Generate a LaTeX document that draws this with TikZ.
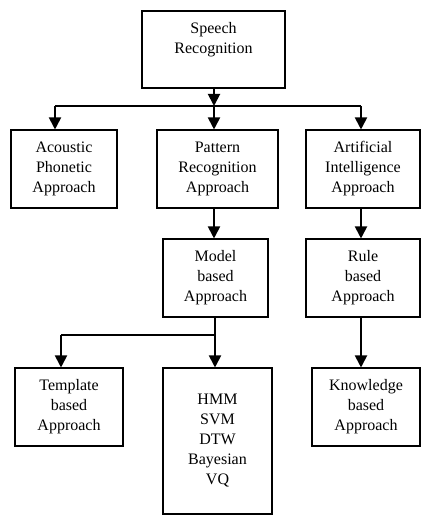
\documentclass[tikz,border=0pt]{standalone}
\usepackage{fontspec}
\setmainfont{Liberation Serif}
\usetikzlibrary{arrows.meta}

\tikzset{
    box/.style={rectangle, draw, line width=0.8pt, align=center, inner sep=2pt,
        font=\fontsize{12}{15}\selectfont, minimum height=58.5pt},
    arr/.style={line width=1.4pt, -{Triangle[length=9pt, width=9pt]}},
    bar/.style={line width=1.4pt}
}

\begin{document}
\begin{tikzpicture}[x=0.75pt, y=-0.75pt]
    \useasboundingbox (0, 0) rectangle (426, 520);

    \draw (213.5, 49.5) node[box, minimum width=107.25pt, minimum height=57.75pt, text depth=18pt] (sr) {Speech\\Recognition};

    \draw (64, 169) node[box, minimum width=79.5pt] (ap) {Acoustic\\Phonetic\\Approach};
    \draw (217.5, 169) node[box, minimum width=90.75pt] (pr) {Pattern\\Recognition\\Approach};
    \draw (363, 169) node[box, minimum width=85.5pt] (ai) {Artificial\\Intelligence\\Approach};

    \draw (215.5, 278) node[box, minimum width=78.75pt] (mb) {Model\\based\\Approach};
    \draw (363, 278) node[box, minimum width=85.5pt] (rb) {Rule\\based\\Approach};

    \draw (69, 407) node[box, minimum width=81pt] (tb) {Template\\based\\Approach};
    \draw (217.5, 441) node[box, minimum width=81.75pt, minimum height=109.5pt] (hmm) {HMM\\SVM\\DTW\\Bayesian\\VQ};
    \draw (366, 407) node[box, minimum width=81pt] (kb) {Knowledge\\based\\Approach};

    % first branching
    \coordinate (j1) at (214, 106);
    \coordinate (b1) at (55, 106);
    \coordinate (b3) at (361, 106);
    \draw[arr] (sr.south -| j1) -- (j1);
    \draw[bar] (b1) -- (b3);
    \draw[arr] (b1) -- (b1 |- ap.north);
    \draw[arr] (j1) -- (j1 |- pr.north);
    \draw[arr] (b3) -- (b3 |- ai.north);

    \draw[arr] (pr.south -| j1) -- (j1 |- mb.north);
    \draw[arr] (ai.south -| b3) -- (b3 |- rb.north);

    % second branching
    \coordinate (j2) at (215, 335);
    \coordinate (b4) at (61, 335);
    \draw[bar] (mb.south -| j2) -- (j2) -- (b4);
    \draw[arr] (b4) -- (b4 |- tb.north);
    \draw[arr] (j2) -- (j2 |- hmm.north);
    \draw[arr] (rb.south -| b3) -- (b3 |- kb.north);
\end{tikzpicture}
\end{document}
